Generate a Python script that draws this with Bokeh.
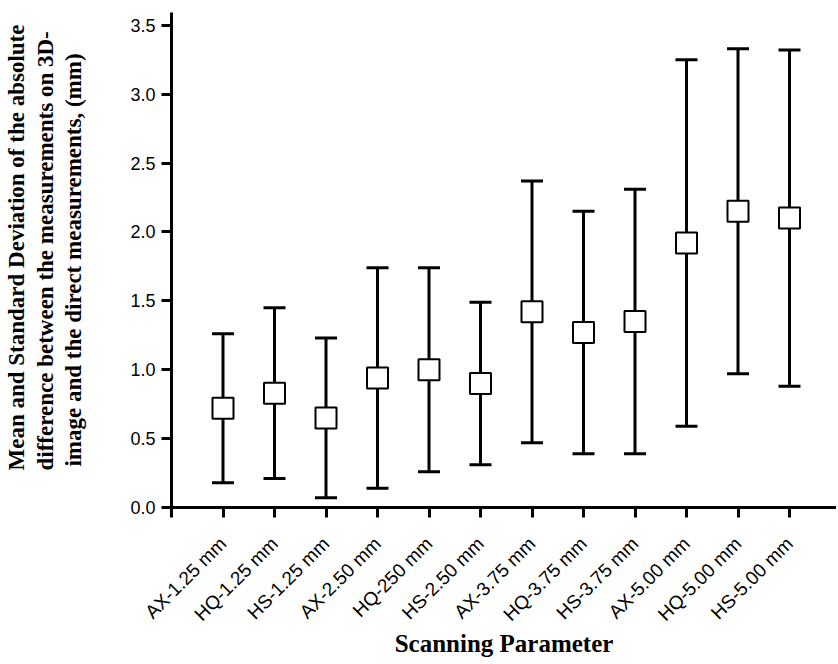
from math import pi
from bokeh.plotting import figure
from bokeh.models import (ColumnDataSource, Whisker, TeeHead, FixedTicker, Range1d,
                          PrintfTickFormatter, Title)
from bokeh.embed import file_html
from bokeh.resources import INLINE

# ---- data ----
categories = ["AX-1.25 mm", "HQ-1.25 mm", "HS-1.25 mm", "AX-2.50 mm", "HQ-250 mm", "HS-2.50 mm",
              "AX-3.75 mm", "HQ-3.75 mm", "HS-3.75 mm", "AX-5.00 mm", "HQ-5.00 mm", "HS-5.00 mm"]
positions = list(range(1, len(categories) + 1))
means = [0.72, 0.83, 0.65, 0.94, 1.00, 0.90, 1.42, 1.27, 1.35, 1.92, 2.15, 2.10]
sds = [0.54, 0.62, 0.58, 0.80, 0.74, 0.59, 0.95, 0.88, 0.96, 1.33, 1.18, 1.22]
y_ticks = [0.0, 0.5, 1.0, 1.5, 2.0, 2.5, 3.0, 3.5]

y_title_lines = ["Mean and Standard Deviation of the absolute",
                 "difference between the measurements on 3D-",
                 "image and the direct measurements, (mm)"]
x_title = "Scanning Parameter"

lower = [m - s for m, s in zip(means, sds)]
upper = [m + s for m, s in zip(means, sds)]
src = ColumnDataSource(dict(x=positions, mean=means, lower=lower, upper=upper))

W, H = 836, 662
LEFT, TOP, BOTTOM_Y = 171, 12, 507          # frame edges in page pixels
PX_X, PX_Y = 51.5, 137.8                    # pixels per data unit
SERIF = "Liberation Serif"

p = figure(width=W, height=H, output_backend="svg", toolbar_location=None,
           x_range=Range1d(0, (W - LEFT) / PX_X),
           y_range=Range1d(0, (BOTTOM_Y - TOP) / PX_Y),
           min_border_left=LEFT, min_border_right=0, min_border_top=TOP,
           min_border_bottom=H - BOTTOM_Y)
p.outline_line_color = None
p.grid.visible = False
p.background_fill_color = "white"
p.border_fill_color = "white"

# axes
for ax in (p.xaxis[0], p.yaxis[0]):
    ax.axis_line_width = 3
    ax.axis_line_color = "black"
    ax.major_tick_line_width = 3
    ax.major_tick_line_color = "black"
    ax.major_tick_out = 10
    ax.major_tick_in = 0
    ax.minor_tick_line_color = None
    ax.major_label_text_font = "Liberation Sans"
    ax.major_label_text_font_size = "18px"
    ax.major_label_text_color = "black"
    ax.axis_label_text_font = SERIF
    ax.axis_label_text_font_style = "bold"
    ax.axis_label_text_color = "black"

p.xaxis.ticker = FixedTicker(ticks=[0] + positions, minor_ticks=[])
overrides = {0: ""}
overrides.update({pos: cat for pos, cat in zip(positions, categories)})
p.xaxis.major_label_overrides = overrides
p.xaxis.major_label_orientation = pi / 4
p.xaxis.major_label_text_font_size = "19px"
p.xaxis.major_label_standoff = 23
p.xaxis.axis_label = x_title
p.xaxis.axis_label_text_font_size = "25px"
p.xaxis.axis_label_standoff = -5

p.yaxis.ticker = FixedTicker(ticks=y_ticks, minor_ticks=[])
p.yaxis.formatter = PrintfTickFormatter(format="%.1f")
p.yaxis.major_label_standoff = 6
# innermost line of the y title is the axis label itself
p.yaxis.axis_label = y_title_lines[2]
p.yaxis.axis_label_text_font_size = "23px"
p.yaxis.axis_label_standoff = 41

# error bars
wh = Whisker(base="x", upper="upper", lower="lower", source=src, dimension="height",
             line_width=3, line_color="black", level="underlay",
             upper_head=TeeHead(size=22, line_width=3, line_color="black"),
             lower_head=TeeHead(size=22, line_width=3, line_color="black"))
p.add_layout(wh)

p.scatter("x", "mean", source=src, marker="square", size=21,
          fill_color="white", line_color="black", line_width=2)

# outer lines of the y title
for txt in (y_title_lines[1], y_title_lines[0]):
    p.add_layout(Title(text=txt, align="left", offset=37, standoff=2,
                       text_font=SERIF, text_font_style="bold",
                       text_font_size="23px", text_color="black"), "left")

open("out.html", "w").write(file_html(p, INLINE))
